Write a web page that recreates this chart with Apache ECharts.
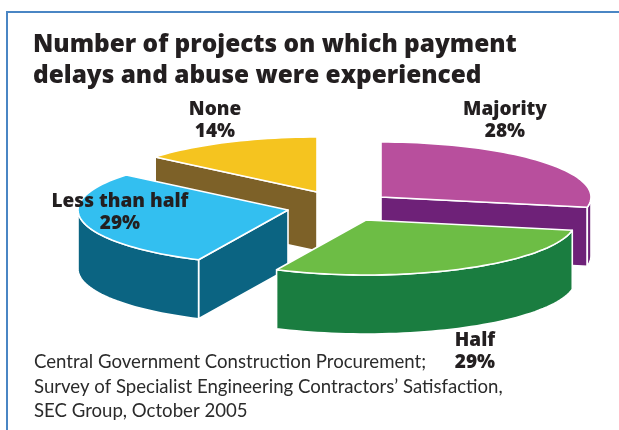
<!DOCTYPE html>
<html><head><meta charset="utf-8">
<style>html,body{margin:0;padding:0;background:#fff}#c{width:619px;height:430px}</style>
<script src="https://cdn.jsdelivr.net/npm/echarts@6/dist/echarts.min.js"></script>
</head><body><div id="c"></div>
<script>
// Data, clockwise from 12 o'clock
const categories = ['Majority', 'Half', 'Less than half', 'None'];
const values = [28, 29, 29, 14];
const percentLabels = ['28%', '29%', '29%', '14%'];
const titleLines = ['Number of projects on which payment', 'delays and abuse were experienced'];
const sourceLines = ['Central Government Construction Procurement;',
  'Survey of Specialist Engineering Contractors\u2019 Satisfaction,',
  'SEC Group, October 2005'];

// Styling and layout
const topColors = ['#b84f9d', '#6dbd45', '#33bff0', '#f5c41f'];
const sideColors = ['#6e2178', '#1a7d40', '#0b6482', '#7d6128'];
const explodedCentres = [[381, 197], [366, 220], [288, 210], [317, 192]];
const labelCentres = [[505, 110], [475, 341], [120, 202], [215, 110]];
const paintRank = [2, 3, 1, 0];
const RX = 210, RY = 55, DEPTH = 59;

const total = values.reduce((a, b) => a + b, 0);
const starts = values.map((_, i) => values.slice(0, i).reduce((a, b) => a + b, 0) / total * 360);

function pt(c, deg, dy) {
  const r = deg * Math.PI / 180;
  return [c[0] + RX * Math.sin(r), c[1] - RY * Math.cos(r) + (dy || 0)];
}
function arc(c, a, b, dy) {
  const out = [], n = Math.max(2, Math.ceil((b - a) / 2));
  for (let i = 0; i <= n; i++) out.push(pt(c, a + (b - a) * i / n, dy));
  return out;
}
const edge = { stroke: '#fff', lineWidth: 1.6, lineJoin: 'round' };

function renderSlice(params, api) {
  const i = params.dataIndex, val = api.value(0);
  const a = starts[i], b = a + val / total * 360, c = explodedCentres[i];
  const base = paintRank[i] * 10, kids = [];
  const face = (deg) => ({
    type: 'polygon', z2: base + 1,
    shape: { points: [c, pt(c, deg), pt(c, deg, DEPTH), [c[0], c[1] + DEPTH]] },
    style: Object.assign({ fill: sideColors[i] }, edge)
  });
  if (Math.cos((a - 90) * Math.PI / 180) < -1e-6) kids.push(face(a));
  if (Math.cos((b + 90) * Math.PI / 180) < -1e-6) kids.push(face(b));
  const wa = Math.max(a, 90), wb = Math.min(b, 270);
  if (wb > wa) {
    kids.push({
      type: 'polygon', z2: base + 2,
      shape: { points: arc(c, wa, wb, 0).concat(arc(c, wa, wb, DEPTH).reverse()) },
      style: Object.assign({ fill: sideColors[i] }, edge)
    });
  }
  kids.push({
    type: 'polygon', z2: base + 3,
    shape: { points: [c].concat(arc(c, a, b, 0)) },
    style: Object.assign({ fill: topColors[i] }, edge)
  });
  const l = labelCentres[i];
  kids.push({
    type: 'text', z2: 100,
    style: {
      text: categories[i] + '\n' + percentLabels[i], x: l[0], y: l[1] - 11,
      align: 'center', verticalAlign: 'top', lineHeight: 22,
      font: '800 19px "Open Sans"', fill: '#231f20'
    }
  });
  return { type: 'group', children: kids };
}

const chart = echarts.init(document.getElementById('c'), null, { renderer: 'canvas' });
chart.setOption({
  animation: false,
  backgroundColor: '#fff',
  graphic: [
    { type: 'polyline', z: 5, shape: { points: [[619, 12], [7, 12], [7, 430]] }, style: { stroke: '#4a86c4', lineWidth: 2, fill: null } },
    { type: 'text', z: 5, left: 33, top: 30, style: { text: titleLines.join('\n'), font: '800 24.4px "Open Sans"', lineHeight: 31, fill: '#231f20' } },
    { type: 'text', z: 5, left: 34, top: 350, style: { text: sourceLines.join('\n'), font: '400 18.6px Lato', lineHeight: 24.5, fill: '#2b2b2b' } }
  ],
  series: [{
    type: 'custom', coordinateSystem: 'none', renderItem: renderSlice,
    data: values.map((v, i) => ({ name: categories[i], value: [v] }))
  }]
});
</script></body></html>
